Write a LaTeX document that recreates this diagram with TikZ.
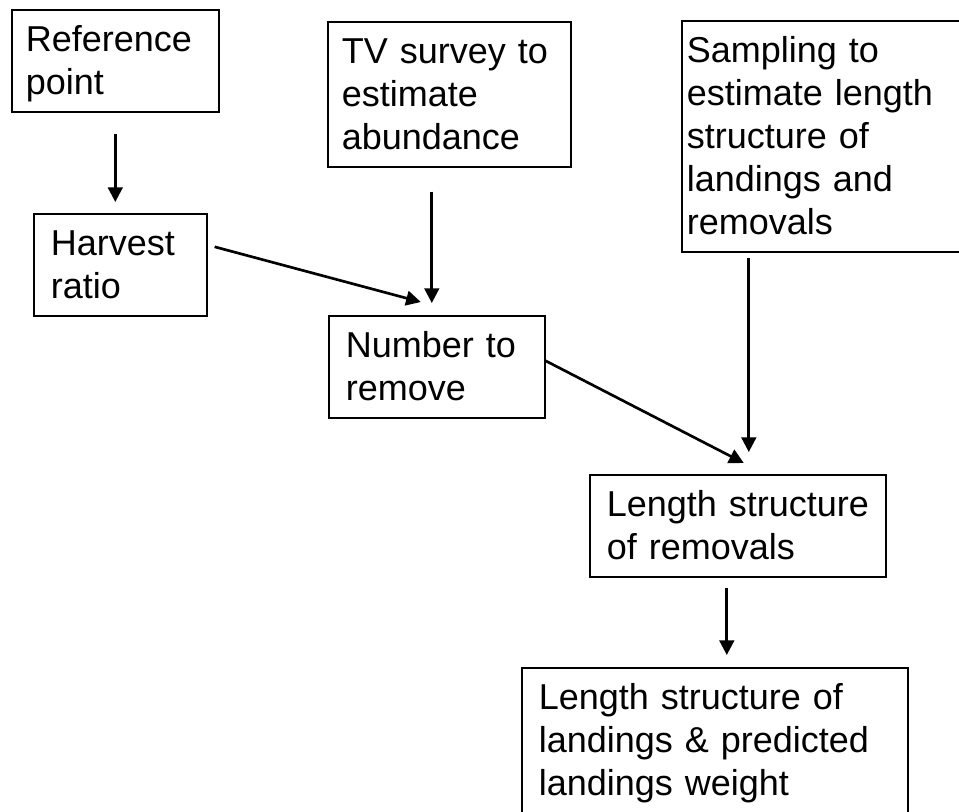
\documentclass[tikz,border=0pt]{standalone}
\usepackage{fontspec}
\setmainfont{Liberation Sans}
\usetikzlibrary{arrows.meta,positioning}
\tikzset{
>={Triangle[length=11pt,width=11pt]},
stepbox/.style={rectangle, draw=black, line width=1.2pt, anchor=north west, align=left, inner ysep=0pt, inner xsep=12.75pt, text height=31.5pt, text depth=45pt, font=\fontsize{27}{32.25}\selectfont},
line/.style={draw, line width=2pt, ->},
}
\begin{document}
\begin{tikzpicture}[x=0.75pt, y=-0.75pt]
\useasboundingbox (0,0) rectangle (959,811);

\node[stepbox, text width=134.25pt, inner xsep=10.5pt] (ref) at (11,9) {Reference\\point};
\node[stepbox, text width=161.25pt, inner xsep=10.5pt, text depth=77.25pt] (tv) at (327,21) {TV survey to\\estimate\\abundance};
\node[stepbox, text width=201pt, inner xsep=3.75pt, text depth=141.75pt] (samp) at (681,20) {Sampling to\\estimate length\\structure of\\landings and\\removals};
\node[stepbox, text width=104.25pt] (harv) at (33,213) {Harvest\\ratio};
\node[stepbox, text width=136.5pt] (num) at (328,315) {Number to\\remove};
\node[stepbox, text width=196.5pt] (rem) at (589,474) {\mbox{Length structure}\\of removals};
\node[stepbox, text width=264pt, text depth=77.25pt] (land) at (521,667) {Length structure of\\landings \& predicted\\landings weight};

\draw[line, shorten <=15.75pt, shorten >=8.25pt] (ref.south) -- (ref.south |- harv.north);
\draw[line, shorten <=18pt, shorten >=9pt] ([xshift=-3.75pt]num.north |- tv.south) -- ([xshift=-3.75pt]num.north);
\draw[line] ([xshift=5.25pt,yshift=13.5pt]harv.east) -- ([xshift=-12pt,yshift=9.75pt]num.north);
\draw[line] ([yshift=4.5pt]num.east) -- ([xshift=4.5pt,yshift=8.25pt]rem.north);
\draw[line, shorten <=3.75pt, shorten >=16.5pt] ([xshift=8.25pt]rem.north |- samp.south) -- ([xshift=8.25pt]rem.north);
\draw[line, shorten <=7.5pt, shorten >=9pt] ([xshift=-8.25pt]rem.south) -- ([xshift=-8.25pt]rem.south |- land.north);

\end{tikzpicture}
\end{document}
